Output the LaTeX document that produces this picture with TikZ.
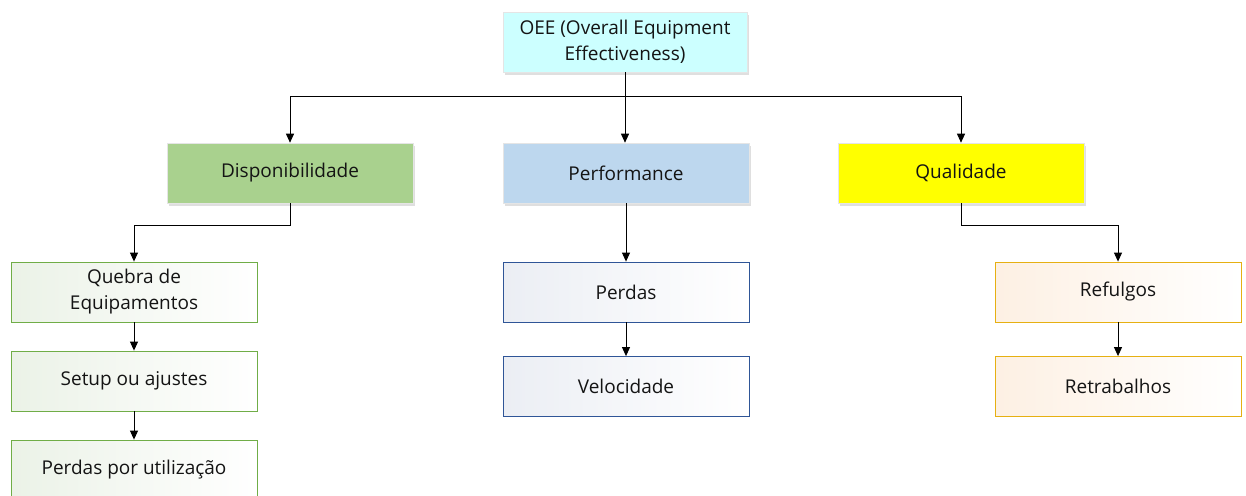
\documentclass[tikz,border=0pt]{standalone}
\usepackage{fontspec}
\setmainfont{Open Sans}
\usetikzlibrary{arrows.meta,shadows}
\definecolor{oeefill}{HTML}{CCFFFF}
\definecolor{dispfill}{HTML}{A9D18E}
\definecolor{perffill}{HTML}{BDD7EE}
\definecolor{qualfill}{HTML}{FFFF00}
\definecolor{greenline}{HTML}{70AD47}
\definecolor{blueline}{HTML}{2F5597}
\definecolor{goldline}{HTML}{E6B012}
\definecolor{greentint}{HTML}{EBF2E7}
\definecolor{bluetint}{HTML}{EBEEF4}
\definecolor{goldtint}{HTML}{FDF0E3}
\tikzset{
  x=1pt, y=-1pt,
  every node/.style={font=\fontsize{19}{26}\selectfont, text=black!92, align=center, inner sep=0pt},
  topbox/.style={draw=black!10, line width=0.6pt, minimum width=246pt, minimum height=60pt,
     drop shadow={opacity=0.25, shadow xshift=2pt, shadow yshift=-3pt}},
  subbox/.style={line width=0.8pt, minimum width=246pt, minimum height=60pt, shading angle=-60},
  greenbox/.style={subbox, draw=greenline, left color=greentint, right color=white},
  bluebox/.style={subbox, draw=blueline, left color=bluetint, right color=white},
  goldbox/.style={subbox, draw=goldline, left color=goldtint, right color=white},
  conn/.style={line width=0.9pt, black},
  arr/.style={conn, -{Triangle[length=9pt,width=8pt]}},
}
\begin{document}
\begin{tikzpicture}
\useasboundingbox (0,0) rectangle (1246,495);
\node[topbox, fill=oeefill, minimum width=244pt] (oee) at (625,42) {OEE (Overall Equipment\\Effectiveness)};
\node[topbox, fill=dispfill] (disp) at (290,173) {Disponibilidade};
\node[topbox, fill=perffill] (perf) at (626,173) {Performance};
\node[topbox, fill=qualfill] (qual) at (961,173) {Qualidade};
\node[greenbox] (queb) at (134,292) {Quebra de\\Equipamentos};
\node[greenbox] (setup) at (134,381) {Setup ou ajustes};
\node[greenbox] (util) at (134,470) {Perdas por utilização};
\node[bluebox] (perd) at (626,292) {Perdas};
\node[bluebox] (vel) at (626,386.5) {Velocidade};
\node[goldbox] (ref) at (1118,292) {Refulgos};
\node[goldbox] (ret) at (1118,386.5) {Retrabalhos};
\coordinate (hb) at (625,96);
\draw[conn] (oee.south) -- (hb);
\draw[arr] (hb) -| (disp.north);
\draw[arr] (hb) -- (hb |- perf.north);
\draw[arr] (hb) -| (qual.north);
\draw[arr] (disp.south) |- (134,225) -- (queb.north);
\draw[arr] (queb) -- (setup);
\draw[arr] (setup) -- (util);
\draw[arr] (perf) -- (perd);
\draw[arr] (perd) -- (vel);
\draw[arr] (qual.south) |- (1118,225) -- (ref.north);
\draw[arr] (ref) -- (ret);
\end{tikzpicture}
\end{document}
